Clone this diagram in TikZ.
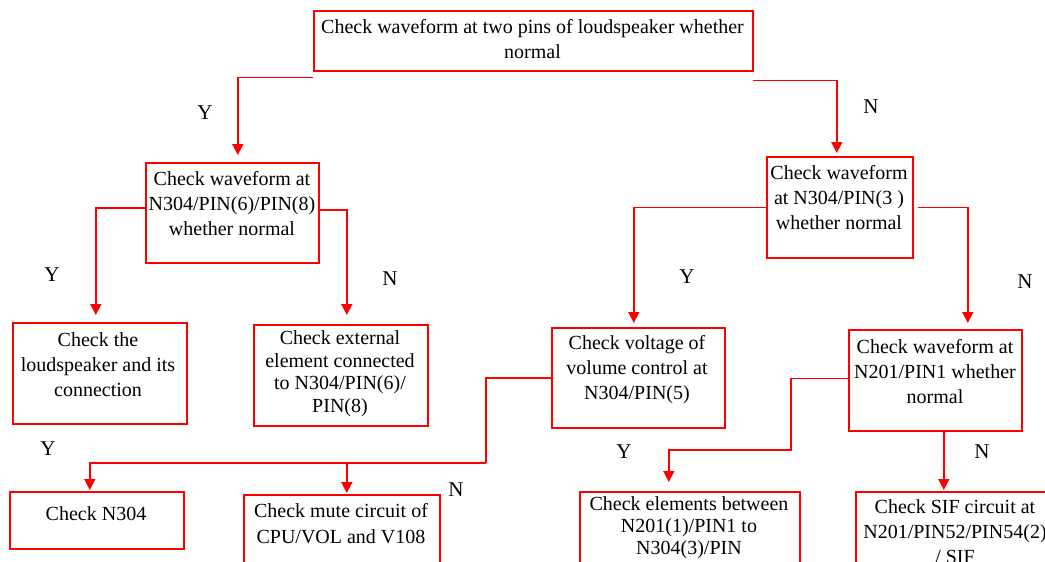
\documentclass[tikz,border=0pt]{standalone}
\usepackage{fontspec}
\setmainfont{Liberation Serif}
\usetikzlibrary{arrows.meta,calc}
\definecolor{flowred}{RGB}{255,0,0}
\tikzset{
  box/.style={draw=flowred, line width=1.6pt, inner sep=0pt, anchor=north west},
  txt/.style={align=center, inner sep=0pt, font=\fontsize{20}{25}\selectfont},
  yn/.style={inner sep=0pt, font=\fontsize{21}{25}\selectfont},
  link/.style={draw=flowred, line width=1.6pt},
  arr/.style={link, -{Triangle[width=11pt,length=11pt]}},
}
\begin{document}
\begin{tikzpicture}[x=1pt,y=-1pt]
\fill[white] (0,0) rectangle (1045,562);
\clip (0,0) rectangle (1045,562);

% boxes
\node[box, minimum width=439pt, minimum height=60pt]  (b1)  at (313,10)  {};
\node[box, minimum width=173pt, minimum height=100pt] (b2)  at (145,162) {};
\node[box, minimum width=146pt, minimum height=101pt] (b3)  at (766,156) {};
\node[box, minimum width=174pt, minimum height=101pt] (b4)  at (12,322)  {};
\node[box, minimum width=174pt, minimum height=101pt] (b5)  at (253,324) {};
\node[box, minimum width=173pt, minimum height=100pt] (b6)  at (551,327) {};
\node[box, minimum width=173pt, minimum height=101pt] (b7)  at (848,329) {};
\node[box, minimum width=174pt, minimum height=57pt]  (b8)  at (9,491)   {};
\node[box, minimum width=196pt, minimum height=100pt] (b9)  at (243,494) {};
\node[box, minimum width=220pt, minimum height=100pt] (b10) at (579,491) {};
\node[box, minimum width=198pt, minimum height=100pt] (b11) at (855,491) {};

% texts
\node[txt] (t1)  at (532.5,39.5) {Check waveform at two pins of loudspeaker whether\\normal};
\node[txt] (t2)  at (232,204) {Check waveform at\\N304/PIN(6)/PIN(8)\\whether normal};
\node[txt] (t3)  at (839,198) {Check waveform\\at N304/PIN(3 )\\whether normal};
\node[txt] (t4)  at (98,365)  {Check the\\loudspeaker and its\\connection};
\node[txt, font=\fontsize{20}{22.5}\selectfont] (t5) at (340,373.5)
  {Check external\\element connected\\to N304/PIN(6)/\\PIN(8)};
\node[txt] (t6)  at (637,370) {Check voltage of\\volume control at\\N304/PIN(5)};
\node[txt] (t7)  at (935,372) {Check waveform at\\N201/PIN1 whether\\normal};
\node[txt] (t8)  at (96,514)  {Check N304};
\node[txt, font=\fontsize{20}{26}\selectfont] (t9) at (341,524)
  {Check mute circuit of\\CPU/VOL and V108};
\node[txt, font=\fontsize{20}{22}\selectfont] (t10) at (689,528)
  {Check elements between\\N201(1)/PIN1 to\\N304(3)/PIN};
\node[txt] (t11) at (955,532) {Check SIF circuit at\\N201/PIN52/PIN54(2)\\/ SIF};

% Y / N labels
\node[yn] (l1)  at (205,113) {Y};
\node[yn] (l2)  at (871,107) {N};
\node[yn] (l3)  at (52,275)  {Y};
\node[yn] (l4)  at (390,279) {N};
\node[yn] (l5)  at (687,277) {Y};
\node[yn] (l6)  at (1025,282) {N};
\node[yn] (l7)  at (48,449)  {Y};
\node[yn] (l8)  at (456,490) {N};
\node[yn] (l9)  at (624,452) {Y};
\node[yn] (l10) at (982,452) {N};

% connectors
\draw[arr] ($(b1.south west)+(0,6)$) -| ($(b2.north)+(5.5,-7)$);
\draw[arr] ($(b1.south east)+(-1,9)$) -| ($(b3.north)+(-3,-3)$);
\draw[arr] ($(b2.west)+(0,-5)$) -| ($(b4.north)+(-4,-7)$);
\draw[arr] ($(b2.east)+(0,-3)$) -| ($(b5.north)+(6,-9)$);
\draw[arr] (b3.west) -| ($(b6.north)+(-4.5,-4)$);
\draw[arr] ($(b3.east)+(4,0)$) -| ($(b7.north)+(32.5,-6)$);

\coordinate (bus) at (486,463);
\draw[link] (b6.west) -| (bus);
\draw[arr] (bus) -| ($(b8.north)+(-7,-1)$);
\draw[arr] ($(bus -| b9.north)+(5,0)$) -- ($(b9.north)+(5,-1)$);

\coordinate (bus2) at (791,450);
\draw[arr] ($(b7.west)+(0,-2)$) -| (bus2) -| ($(b10.north)+(-21,-9)$);
\draw[arr] ($(b7.south)+(8.5,0)$) -- ($(b11.north)+(-11,-1)$);
\end{tikzpicture}
\end{document}
